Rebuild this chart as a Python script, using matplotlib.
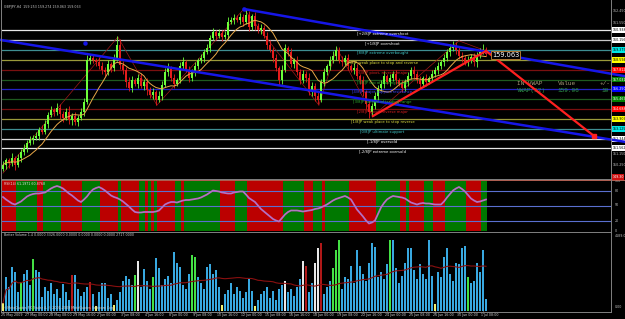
import matplotlib
matplotlib.use('Agg')
import matplotlib.pyplot as plt
import numpy as np
import pandas as pd

W, H = 625, 319

# ---- data: GBPJPY H4 ----
closes = [150.25, 150.64, 150.40, 150.80, 150.25, 150.80, 151.28, 151.60, 152.00, 152.23,
          152.40, 152.55, 153.03, 152.87, 153.50, 154.22, 154.61, 154.45, 154.77, 154.30,
          153.98, 154.45, 153.82, 154.14, 153.66, 153.98, 154.45, 155.25, 158.58, 158.74,
          158.58, 158.42, 158.10, 157.79, 157.63, 158.26, 157.94, 158.74, 159.77, 158.18,
          157.79, 156.84, 156.36, 156.99, 156.68, 157.15, 156.52, 156.84, 156.20, 155.80,
          156.04, 155.41, 155.72, 156.60, 157.63, 157.94, 157.15, 156.68, 156.99, 158.10,
          158.42, 157.79, 157.15, 157.63, 158.10, 158.58, 158.74, 159.22, 159.53, 160.33,
          160.80, 160.49, 160.73, 160.41, 160.57, 161.60, 161.76, 161.92, 161.76, 162.00,
          161.60, 162.15, 161.20, 162.07, 161.28, 160.96, 161.12, 160.49, 159.77, 159.38,
          158.74, 157.94, 156.99, 157.79, 159.53, 159.22, 158.26, 158.58, 157.63, 156.99,
          157.47, 157.15, 156.04, 156.52, 155.72, 155.41, 156.84, 157.63, 158.10, 158.58,
          158.90, 159.38, 158.58, 158.42, 158.74, 158.10, 157.79, 157.94, 157.31, 156.99,
          156.04, 155.09, 154.45, 154.93, 155.72, 156.36, 156.68, 157.31, 156.84, 157.15,
          157.47, 156.99, 156.68, 156.36, 156.84, 157.31, 157.79, 157.47, 156.99, 156.68,
          157.15, 156.84, 157.15, 157.47, 157.79, 158.10, 158.42, 158.74, 159.22, 159.53,
          159.69, 159.38, 158.90, 158.74, 158.42, 158.58, 158.82, 158.42, 158.98, 159.22,
          159.38, 159.06]
first_open = 149.95
up_wick = [.3, .2, .2, .4, .2, .3, .2, .3, .2, .3, .2, .3, .2, .4, .3, .2, .3, .2, .4, .3,
           .2, .3, .5, .2, .3, .2, .3, .3, .4, .3, .3, .2, .4, .3, .2, .3, .2, .3, .7, .5,
           .3, .2, .4, .3, .2, .3, .4, .2, .3, .2, .3, .2, .4, .3, .3, .4, .2, .3, .2, .3,
           .4, .2, .3, .2, .3, .2, .3, .2, .3, .2, .3, .2, .3, .2, .3, .4, .2, .3, .2, .3,
           .2, .5, .3, .2, .3, .2, .3, .2, .3, .4, .2, .3, .2, .4, .3, .2, .3, .2, .3, .2,
           .3, .2, .4, .3, .2, .3, .2, .3, .2, .3, .4, .3, .2, .3, .2, .3, .2, .4, .3, .2,
           .3, .2, .3, .2, .3, .2, .3, .4, .2, .3, .2, .3, .2, .3, .2, .3, .2, .3, .2, .3,
           .2, .3, .2, .3, .2, .3, .2, .3, .2, .3, .4, .3, .2, .3, .2, .3, .2, .3, .2, .3,
           .5, .2]
dn_wick = [.2, .3, .4, .2, .4, .2, .3, .2, .3, .2, .3, .2, .3, .2, .2, .3, .2, .3, .2, .4,
           .3, .2, .3, .4, .2, .3, .2, .3, .2, .3, .2, .3, .2, .3, .3, .2, .3, .2, .2, .3,
           .3, .4, .2, .3, .2, .3, .2, .3, .4, .2, .3, .4, .2, .3, .2, .3, .2, .3, .2, .2,
           .3, .2, .3, .2, .3, .2, .2, .3, .2, .3, .2, .3, .2, .3, .2, .3, .2, .3, .2, .3,
           .3, .2, .3, .2, .3, .2, .3, .2, .3, .2, .3, .2, .4, .3, .2, .3, .2, .3, .2, .3,
           .2, .3, .2, .3, .4, .3, .2, .3, .2, .3, .2, .3, .2, .3, .2, .3, .2, .3, .2, .3,
           .3, .4, .5, .3, .2, .3, .2, .3, .2, .3, .2, .3, .2, .3, .2, .3, .2, .3, .2, .3,
           .2, .3, .2, .3, .2, .3, .2, .3, .2, .3, .2, .3, .2, .3, .2, .3, .2, .3, .4, .2,
           .2, .2]

volumes = [430, 1840, 1300, 2380, 2110, 1000, 1570, 1970, 2200, 1400,
           2790, 2200, 2100, 770, 1300, 1100, 1500, 900, 1200, 700,
           1450, 1000, 600, 1930, 1930, 1200, 800, 1000, 1300, 1570,
           900, 250, 1000, 1500, 1520, 700, 900, 300, 600, 1040,
           1600, 1880, 1700, 1400, 1930, 2690, 1300, 2280, 1600, 1200,
           1820, 2830, 2300, 1400, 1700, 1900, 1500, 3150, 2600, 2380,
           1400, 1200, 2000, 3000, 2900, 1800, 1500, 1200, 2380, 2520,
           2000, 2200, 1300, 300, 900, 1150, 1500, 900, 1300, 1100,
           700, 1000, 1740, 1100, 250, 600, 900, 1100, 1300, 700,
           1100, 600, 1200, 1400, 1610, 1000, 1200, 800, 1300, 1700,
           2700, 2420, 1000, 1500, 2560, 3370, 3640, 900, 1300, 1600,
           2330, 3270, 3810, 1200, 1800, 1700, 2420, 1500, 3300, 2400,
           2000, 1600, 2600, 3670, 3450, 1800, 2100, 1700, 2500, 3810,
           3810, 2300, 1500, 1900, 2600, 3370, 3370, 2200, 1700, 2500,
           2000, 1700, 3810, 1900, 350, 2100, 1800, 2900, 3380, 2000,
           1600, 2600, 2500, 3380, 3500, 1820, 1500, 1600, 2560, 2100,
           3270, 670]
vol_colors = ("ybbbbbgbbb" "gbbbbbbbbb" "bbbrbbbbbr" "bybbbbbybb" "bbbbgwbbbb"
              "gbbbbbbbbb" "bbbggbbbbb" "bbbybbbbbb" "bbbbybbbbb" "bbbbwbbbbb"
              "wrbbwwrbbb" "gggbbbbbbb" "bbbbbbbbbg" "bbbbbbbbbb" "bbbbybbbbb"
              "bbbbbgbbbb" "bb")

rsi = [67, 62, 58, 54, 52, 55, 58, 63, 68, 71, 73, 74, 74, 75, 76, 80, 84, 87, 89, 87,
       84, 79, 74, 70, 65, 60, 57, 62, 68, 76, 82, 85, 87, 84, 80, 75, 70, 67, 65, 62,
       58, 53, 48, 42, 37, 36, 36, 37, 37, 37, 37, 38, 40, 46, 52, 55, 57, 57, 56, 58,
       60, 61, 61, 62, 63, 64, 66, 69, 72, 76, 80, 79, 78, 76, 75, 74, 74, 76, 77, 78,
       78, 72, 65, 61, 57, 50, 43, 38, 33, 28, 23, 20, 18, 25, 32, 37, 40, 40, 40, 39,
       38, 39, 40, 41, 43, 44, 46, 49, 52, 56, 60, 63, 65, 67, 69, 66, 62, 52, 42, 35,
       28, 20, 14, 16, 20, 33, 46, 55, 62, 66, 69, 68, 67, 66, 64, 60, 56, 54, 52, 54,
       55, 54, 54, 53, 52, 52, 52, 58, 66, 73, 80, 84, 87, 83, 78, 71, 64, 60, 57, 58,
       60, 62]
bands = ("rrrrrgggggggrrggggggrrrrrrrggggggrrrrrrgrrrrrrggrgrgrrrrrrggrgggggggggggg"
         "rrrrrggggrrrrrrrrrrrrgggggggrrrgggrgggggggg" "rrrrrrrrrgggggggg" "rrgrrrrrgggrrrrggggggg"
         "rrrrrgg")

murrey_prices = [160.9375, 160.15625, 159.375, 158.59375, 157.8125, 157.03125, 156.25,
                 155.46875, 154.6875, 153.90625, 153.125, 152.34375, 151.5625]
murrey_names = ["[+2/8]P extreme overshoot", "[+1/8]P overshoot", "[8/8]P extreme overbought",
                "[7/8]P weak place to stop and reverse", "[6/8]P pivot, reverse major",
                "[5/8]P top of trading range", "[4/8]P major support/resistance",
                "[3/8]P bottom of trading range", "[2/8]P pivot, reverse major",
                "[1/8]P weak place to stop reverse", "[0/8]P ultimate support",
                "[-1/8]P oversold", "[-2/8]P extreme oversold"]
murrey_line_colors = ["#e8e8e8", "#c8c8c8", "#3f8f92", "#9a9a3a", "#7a1010", "#1f5a1f", "#2323c8",
                      "#1f5a1f", "#7a1010", "#9a9a3a", "#3f8f92", "#d8d8d8", "#e8e8e8"]
murrey_text_colors = ["#ffffff", "#ffffff", "#40c8c8", "#e0e040", "#e02020", "#30b030", "#4040ff",
                      "#30b030", "#e02020", "#e0e040", "#40c8c8", "#ffffff", "#ffffff"]
murrey_box_colors = ["#ffffff", "#ffffff", "#00e8e8", "#ffff00", "#ff0000", "#008000", "#0000ff",
                     "#008000", "#ff0000", "#ffff00", "#00e8e8", "#ffffff", "#ffffff"]

price_ticks = [162.45, 161.55, 150.25, 151.15]

date_labels = ["25 May 2009", "27 May 00:00", "28 May 08:00", "29 May 16:00", "2 Jun 00:00",
               "3 Jun 08:00", "4 Jun 16:00", "8 Jun 00:00", "9 Jun 08:00", "10 Jun 16:00",
               "12 Jun 00:00", "15 Jun 08:00", "16 Jun 16:00", "18 Jun 00:00", "19 Jun 08:00",
               "22 Jun 16:00", "24 Jun 00:00", "25 Jun 08:00", "26 Jun 16:00", "30 Jun 00:00",
               "1 Jul 08:00"]

# trend objects (bar index, price)
chan_upper = [(80.3, 162.63), (207.7, 157.28)]
chan_lower = [(-0.7, 160.17), (207.7, 152.07)]
red_up = [(123.3, 154.13), (161.0, 159.30)]
red_down = [(161.0, 159.30), (197.0, 152.55)]
zigzag = [(0, 149.6), (38.3, 160.41), (51.3, 155.0), (80.3, 162.63), (105.3, 155.0),
          (111.3, 159.53), (123.3, 154.13), (152.0, 160.1), (161.0, 159.30)]

BG = "black"
GRID = "#808080"
FS = 2.3

n = len(closes)
idx = np.arange(n)
opens = [first_open] + closes[:-1]
highs = [max(o, c) + u for o, c, u in zip(opens, closes, up_wick)]
lows = [min(o, c) - d for o, c, d in zip(opens, closes, dn_wick)]
ma = pd.Series(closes).rolling(10, min_periods=1).mean()
vol_ma = pd.Series(volumes).rolling(40, min_periods=1).mean()

fig = plt.figure(figsize=(W / 100, H / 100), dpi=100, facecolor=BG)


def px_axes(x0, y0, x1, y1):
    ax = fig.add_axes([x0 / W, 1 - y1 / H, (x1 - x0) / W, (y1 - y0) / H])
    ax.set_facecolor(BG)
    for s in ax.spines.values():
        s.set_visible(False)
    ax.set_xticks([])
    ax.set_yticks([])
    return ax


XL = (-0.33, 202.67)

# ---- main price panel ----
ax = px_axes(2, 2, 611, 178)
ax.set_xlim(*XL)
ax.set_ylim(149.216, 163.185)

for p, lc in zip(murrey_prices, murrey_line_colors):
    ax.axhline(p, color=lc, lw=0.9, zorder=1)

for (a, b) in [zigzag[i:i + 2] for i in range(len(zigzag) - 1)]:
    ax.plot([a[0], b[0]], [a[1], b[1]], color="#a01818", lw=0.5, zorder=2)

for i in range(n):
    o, c = opens[i], closes[i]
    col = "#6cff3a" if c >= o else "#e41c1c"
    ax.vlines(i, lows[i], highs[i], color=col, lw=0.6, zorder=3)
    ax.bar(i, max(abs(c - o), 0.03), bottom=min(o, c), width=0.7, color=col, lw=0, zorder=4)

ax.plot(idx, ma, color="#e8a848", lw=0.7, zorder=5)

for line in (chan_upper, chan_lower):
    ax.plot([line[0][0], line[1][0]], [line[0][1], line[1][1]], color="#1616e8", lw=1.8,
            zorder=6, clip_on=False)
ax.plot(*chan_upper[0], "o", color="#1616e8", ms=2.2, zorder=6)
ax.plot(27.3, 159.96, "o", color="#1616e8", ms=2.2, zorder=6)

for line in (red_up, red_down):
    ax.plot([line[0][0], line[1][0]], [line[0][1], line[1][1]], color="#ff2020", lw=1.6, zorder=7)
ax.plot(*red_down[1], "s", color="#ff2020", ms=2.5, zorder=7)

for p, name, tc in zip(murrey_prices, murrey_names, murrey_text_colors):
    ax.text(126.5, p - 0.08, name, color=tc, fontsize=2.7, ha="center", va="top", zorder=8)

ax.text(163.0, 159.0, "159.063", color="white", fontsize=4.8, ha="left", va="center", zorder=9,
        bbox=dict(boxstyle="square,pad=0.12", fc="black", ec="#b07830", lw=0.7))

mono = dict(family="Liberation Mono", fontsize=4.4, ha="left", va="center")
ax.text(171.3, 156.75, "IN VWAP", color="#a89a78", **mono)
ax.text(185.0, 156.75, "Value", color="#a89a78", **mono)
ax.text(198.8, 156.75, "+/-", color="#a89a78", **mono)
ax.text(171.3, 156.2, "VWAP(32)", color="#2f9a4a", **mono)
ax.text(185.0, 156.2, "159.06", color="#2f9a4a", **mono)
ax.text(199.5, 156.2, "10", color="#2f9a4a", **mono)

ax.text(0.003, 0.985, "GBPJPY,H4  159.253 159.274 159.063 159.063", transform=ax.transAxes,
        color="#c8c8c8", fontsize=FS, ha="left", va="top")

# price axis labels
ty = ax.get_yaxis_transform()
for p in price_ticks:
    ax.text(1.003, p, f"{p:.3f}", transform=ty, color="#c0c0c0", fontsize=FS, ha="left",
            va="center", clip_on=False)
for p, bc in zip(murrey_prices, murrey_box_colors):
    tcol = "white" if bc in ("#0000ff", "#008000", "#ff0000") else "black"
    ax.text(1.003, p, f"{p:.3f}", transform=ty, color=tcol, fontsize=FS, ha="left", va="center",
            clip_on=False, bbox=dict(boxstyle="square,pad=0.3", fc=bc, ec="none"))

# ---- RSI panel ----
ax2 = px_axes(2, 180.5, 611, 230.5)
ax2.set_xlim(*XL)
ax2.set_ylim(0, 100)
for i, b in enumerate(bands[:n]):
    ax2.axvspan(i - 0.5, i + 0.5, color="#bb0000" if b == "r" else "#007800", lw=0, zorder=1)
for lv in (80, 50, 20):
    ax2.axhline(lv, color="#5a6fd0", lw=0.8, zorder=2)
ax2.plot(idx, rsi, color="#c050c8", lw=1.3, zorder=3)
ax2.plot(idx, rsi, color="#a0a0b0", lw=0.4, zorder=4)
ax2.text(0.003, 0.97, "RSI(14) 61.1971 60.8768", transform=ax2.transAxes, color="#e0e0e0",
         fontsize=FS, ha="left", va="top", zorder=5)
ty2 = ax2.get_yaxis_transform()
for lv in (100, 80, 50, 20, 0):
    ax2.text(1.006, lv, str(lv), transform=ty2, color="#c0c0c0", fontsize=FS, ha="left",
             va="center", clip_on=False)

# ---- volume panel ----
ax3 = px_axes(2, 232, 611, 311)
ax3.set_xlim(*XL)
ax3.set_ylim(0, 4240)
cmap = {"b": "#38a8e0", "g": "#44e044", "r": "#b01818", "w": "#e8e8e8", "y": "#f0f070"}
ax3.bar(idx, volumes, width=0.45, color=[cmap[c] for c in vol_colors[:n]], lw=0, zorder=2)
ax3.plot(idx, vol_ma, color="#8a1010", lw=0.8, zorder=3)
ax3.text(0.003, 0.985, "Better Volume 1.4 0.0000 3326.0000 0.0000 0.0000 0.0000 0.0000 2717.0000",
         transform=ax3.transAxes, color="#d0d0d0", fontsize=FS, ha="left", va="top")
ax3.text(0.003, 0.01, "\u00a9MetaQuotes FX Trader 4, \u00a9 2001-2009 MetaQuotes Software Corp.",
         transform=ax3.transAxes, color="#d0d0d0", fontsize=FS, ha="left", va="bottom", zorder=5)
ty3 = ax3.get_yaxis_transform()
ax3.text(1.006, 4150, "4189.0", transform=ty3, color="#c0c0c0", fontsize=FS, ha="left",
         va="top", clip_on=False)
ax3.text(1.006, 100, "0.00", transform=ty3, color="#c0c0c0", fontsize=FS, ha="left",
         va="bottom", clip_on=False)

# date axis
tx = ax3.get_xaxis_transform()
for k, lab in enumerate(date_labels):
    ax3.text(8 * k - 0.6, -0.03, lab, transform=tx, color="#d0d0d0", fontsize=FS, ha="left",
             va="top", clip_on=False)
    ax3.plot([8 * k, 8 * k], [-0.025, 0], transform=tx, color=GRID, lw=0.5, clip_on=False)

# frame lines
fl = fig.add_axes([0, 0, 1, 1], facecolor="none")
fl.set_xlim(0, W)
fl.set_ylim(H, 0)
fl.axis("off")
for y in (178.5, 231.5, 311.5):
    fl.plot([1, 611], [y, y], color=GRID, lw=0.7)
fl.plot([1, 625], [179.6, 179.6], color="#d07060", lw=0.6)
fl.plot([611, 611], [0, 312], color=GRID, lw=0.7)
fl.plot([1, 1], [0, 312], color=GRID, lw=0.7)
fl.text(612.3, 177.0, "149.30", color="white", fontsize=FS, ha="left", va="center",
        bbox=dict(boxstyle="square,pad=0.2", fc="#d01010", ec="none"))

fig.savefig("out.png", dpi=100, facecolor=BG)
plt.close()
print('done')
